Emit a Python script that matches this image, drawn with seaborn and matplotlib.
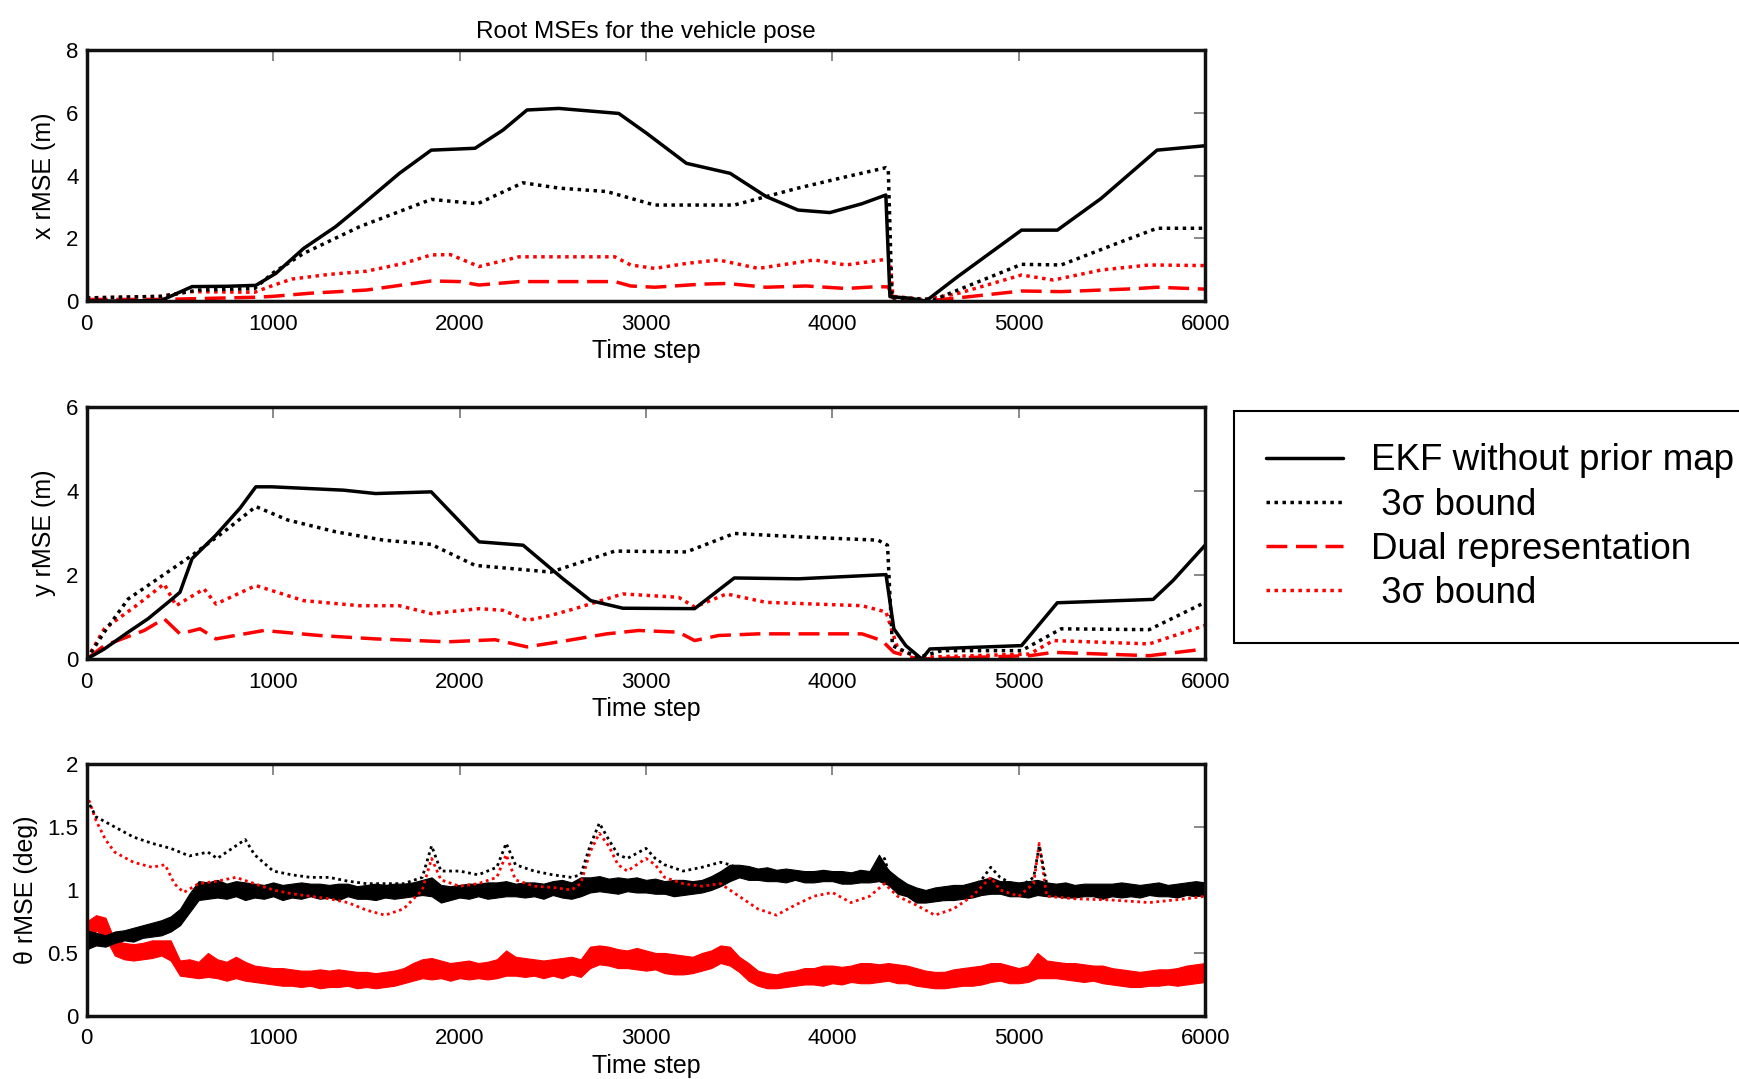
import matplotlib
matplotlib.use("Agg")
import matplotlib.pyplot as plt
import seaborn as sns
from matplotlib.lines import Line2D

# ---------------- x position error (m) ----------------
x_ekf_t = [0, 200, 400, 565, 750, 907, 1014, 1164, 1335, 1464, 1677, 1848, 2083, 2233, 2362, 2533,
           2854, 3003, 3217, 3452, 3645, 3816, 3987, 4158, 4287, 4309, 4416, 4502, 4673, 5015, 5207,
           5442, 5742, 6000]
x_ekf_v = [0.0, 0.0, 0.02, 0.46, 0.47, 0.5, 0.88, 1.68, 2.37, 3.0, 4.07, 4.81, 4.87, 5.45, 6.09, 6.14,
           5.98, 5.35, 4.39, 4.07, 3.33, 2.9, 2.82, 3.1, 3.38, 0.14, 0.09, 0.0, 0.78, 2.26, 2.26,
           3.27, 4.81, 4.95]

x_ekf_sig_t = [0, 400, 600, 900, 1000, 1164, 1464, 1848, 2096, 2340, 2533, 2790, 3046, 3474, 3816,
               4073, 4287, 4300, 4320, 4550, 4673, 5015, 5228, 5528, 5742, 6000]
x_ekf_sig_v = [0.1, 0.15, 0.35, 0.4, 0.9, 1.52, 2.37, 3.24, 3.1, 3.77, 3.6, 3.49, 3.06, 3.06, 3.6,
               3.96, 4.25, 4.2, 0.1, 0.05, 0.35, 1.17, 1.15, 1.84, 2.32, 2.32]

x_dual_sig_t = [0, 400, 550, 900, 1000, 1100, 1300, 1500, 1700, 1848, 1950, 2105, 2319, 2833, 2918,
                3047, 3218, 3389, 3603, 3902, 4074, 4288, 4310, 4325, 4500, 4673, 5015, 5186, 5443,
                5700, 6000]
x_dual_sig_v = [0.1, 0.15, 0.3, 0.28, 0.5, 0.7, 0.85, 0.95, 1.2, 1.47, 1.48, 1.1, 1.41, 1.41, 1.15,
                1.04, 1.2, 1.31, 1.04, 1.31, 1.15, 1.33, 1.3, 0.15, 0.05, 0.24, 0.83, 0.67, 0.99,
                1.15, 1.13]

x_dual_t = [0, 400, 900, 1000, 1200, 1500, 1848, 2000, 2105, 2319, 2833, 2918, 3047, 3304, 3432,
            3645, 3859, 4074, 4245, 4300, 4325, 4500, 4673, 5015, 5228, 5614, 5742, 6000]
x_dual_v = [0.05, 0.05, 0.12, 0.15, 0.25, 0.35, 0.64, 0.62, 0.51, 0.62, 0.62, 0.48, 0.44, 0.54, 0.56,
            0.44, 0.48, 0.4, 0.46, 0.45, 0.1, 0.0, 0.1, 0.32, 0.3, 0.39, 0.44, 0.38]

# ---------------- y position error (m) ----------------
y_ekf_t = [0, 94, 222, 329, 458, 500, 565, 693, 822, 907, 993, 1378, 1549, 1848, 2105, 2341, 2555,
           2704, 2876, 3261, 3474, 3817, 4288, 4330, 4394, 4480, 4523, 5015, 5207, 5721, 5828, 6000]
y_ekf_v = [0.0, 0.24, 0.64, 0.96, 1.43, 1.59, 2.39, 2.95, 3.59, 4.1, 4.1, 4.02, 3.94, 3.98, 2.79, 2.71,
           1.91, 1.39, 1.21, 1.2, 1.93, 1.91, 2.01, 0.72, 0.32, 0.0, 0.24, 0.32, 1.34, 1.42, 1.87, 2.71]

y_ekf_sig_t = [0, 94, 222, 394, 565, 736, 907, 1078, 1335, 1592, 1848, 2083, 2490, 2833, 3218, 3474,
               3817, 4245, 4296, 4322, 4459, 4587, 5015, 5228, 5700, 6000]
y_ekf_sig_v = [0.0, 0.64, 1.43, 1.95, 2.47, 3.03, 3.63, 3.31, 3.03, 2.83, 2.73, 2.23, 2.07, 2.57, 2.55,
               2.99, 2.91, 2.83, 2.71, 0.32, 0.04, 0.2, 0.2, 0.72, 0.7, 1.35]

y_dual_sig_t = [0, 94, 265, 415, 479, 629, 693, 907, 1164, 1463, 1677, 1848, 2105, 2233, 2362, 2490,
                2619, 2876, 3175, 3261, 3432, 3645, 4159, 4288, 4352, 4459, 5058, 5186, 5700, 6000]
y_dual_sig_v = [0.0, 0.72, 1.27, 1.79, 1.27, 1.67, 1.31, 1.75, 1.39, 1.27, 1.27, 1.08, 1.2, 1.16, 0.92,
                1.04, 1.2, 1.55, 1.47, 1.24, 1.55, 1.35, 1.27, 1.12, 0.24, 0.04, 0.12, 0.44, 0.36, 0.8]

y_dual_t = [0, 94, 308, 415, 500, 608, 693, 950, 1250, 1549, 1934, 2190, 2362, 2576, 2790, 2961,
            3175, 3261, 3389, 3603, 4159, 4266, 4330, 4459, 5058, 5186, 5700, 6000]
y_dual_v = [0.0, 0.32, 0.68, 0.96, 0.6, 0.72, 0.48, 0.68, 0.56, 0.48, 0.41, 0.46, 0.29, 0.44, 0.6,
            0.68, 0.64, 0.44, 0.56, 0.6, 0.6, 0.44, 0.16, 0.0, 0.08, 0.16, 0.08, 0.24]

# ---------------- heading error (deg) ----------------
# the heading estimates jitter strongly, so each one is kept as its lower/upper spread
th_t = list(range(0, 6001, 50))
th_ekf_lo = [0.53, 0.56, 0.55, 0.58, 0.60, 0.59, 0.62, 0.63, 0.64, 0.67, 0.72, 0.82, 0.92, 0.93, 0.94,
             0.93, 0.95, 0.92, 0.94, 0.93, 0.95, 0.92, 0.94, 0.93, 0.95, 0.93, 0.94, 0.92, 0.95, 0.93,
             0.93, 0.92, 0.94, 0.93, 0.94, 0.95, 0.96, 0.95, 0.90, 0.92, 0.94, 0.93, 0.95, 0.93, 0.94,
             0.95, 0.95, 0.94, 0.95, 0.93, 0.96, 0.94, 0.93, 0.95, 0.98, 0.99, 0.98, 0.97, 0.99, 0.98,
             0.98, 0.97, 0.97, 0.95, 0.96, 0.97, 0.98, 1.00, 1.03, 1.07, 1.10, 1.08, 1.08, 1.07, 1.07,
             1.06, 1.08, 1.06, 1.06, 1.07, 1.07, 1.05, 1.05, 1.06, 1.06, 1.07, 1.04, 0.97, 0.95, 0.90,
             0.90, 0.91, 0.92, 0.92, 0.93, 0.94, 0.96, 0.97, 0.97, 0.95, 0.95, 0.94, 0.96, 0.95, 0.95,
             0.94, 0.94, 0.95, 0.95, 0.93, 0.95, 0.94, 0.95, 0.94, 0.96, 0.95, 0.95, 0.94, 0.96, 0.95,
             0.96]
th_ekf_hi = [0.68, 0.66, 0.64, 0.67, 0.68, 0.70, 0.72, 0.74, 0.76, 0.79, 0.85, 0.97, 1.07, 1.06, 1.08,
             1.05, 1.07, 1.06, 1.05, 1.04, 1.06, 1.04, 1.05, 1.06, 1.05, 1.05, 1.04, 1.05, 1.05, 1.03,
             1.04, 1.05, 1.04, 1.05, 1.05, 1.06, 1.08, 1.10, 1.04, 1.03, 1.04, 1.05, 1.05, 1.06, 1.06,
             1.07, 1.05, 1.06, 1.06, 1.05, 1.07, 1.08, 1.06, 1.10, 1.10, 1.11, 1.09, 1.10, 1.09, 1.10,
             1.08, 1.09, 1.07, 1.08, 1.08, 1.07, 1.08, 1.11, 1.15, 1.20, 1.20, 1.19, 1.17, 1.18, 1.16,
             1.17, 1.16, 1.15, 1.15, 1.16, 1.15, 1.15, 1.14, 1.16, 1.15, 1.28, 1.16, 1.10, 1.05, 1.02,
             1.00, 1.02, 1.03, 1.04, 1.04, 1.06, 1.08, 1.10, 1.07, 1.07, 1.06, 1.07, 1.08, 1.06, 1.05,
             1.06, 1.04, 1.05, 1.05, 1.05, 1.05, 1.06, 1.05, 1.04, 1.05, 1.06, 1.04, 1.05, 1.06, 1.07,
             1.06]
th_dual_lo = [0.50, 0.68, 0.62, 0.48, 0.45, 0.44, 0.45, 0.46, 0.48, 0.44, 0.32, 0.31, 0.30, 0.31, 0.30,
              0.28, 0.30, 0.28, 0.27, 0.26, 0.25, 0.24, 0.24, 0.23, 0.24, 0.22, 0.23, 0.23, 0.24, 0.22,
              0.23, 0.22, 0.23, 0.24, 0.26, 0.28, 0.30, 0.29, 0.30, 0.28, 0.30, 0.29, 0.30, 0.29, 0.30,
              0.32, 0.32, 0.31, 0.32, 0.30, 0.32, 0.30, 0.33, 0.31, 0.38, 0.41, 0.40, 0.38, 0.38, 0.37,
              0.36, 0.37, 0.34, 0.33, 0.33, 0.34, 0.36, 0.38, 0.42, 0.40, 0.35, 0.28, 0.24, 0.22, 0.22,
              0.23, 0.24, 0.25, 0.25, 0.24, 0.26, 0.25, 0.27, 0.26, 0.26, 0.27, 0.28, 0.26, 0.26, 0.24,
              0.23, 0.22, 0.22, 0.23, 0.24, 0.24, 0.25, 0.27, 0.28, 0.26, 0.26, 0.27, 0.30, 0.30, 0.30,
              0.29, 0.28, 0.27, 0.28, 0.26, 0.25, 0.24, 0.23, 0.23, 0.24, 0.24, 0.25, 0.24, 0.25, 0.26,
              0.27]
th_dual_hi = [0.75, 0.80, 0.78, 0.60, 0.58, 0.57, 0.58, 0.60, 0.60, 0.60, 0.44, 0.45, 0.43, 0.50, 0.45,
              0.43, 0.47, 0.43, 0.40, 0.39, 0.38, 0.38, 0.37, 0.36, 0.36, 0.37, 0.36, 0.37, 0.36, 0.35,
              0.35, 0.34, 0.35, 0.36, 0.38, 0.42, 0.45, 0.46, 0.44, 0.42, 0.43, 0.44, 0.42, 0.43, 0.45,
              0.52, 0.47, 0.46, 0.45, 0.44, 0.45, 0.46, 0.47, 0.45, 0.55, 0.56, 0.55, 0.53, 0.52, 0.54,
              0.52, 0.50, 0.50, 0.49, 0.48, 0.47, 0.50, 0.52, 0.56, 0.55, 0.47, 0.42, 0.36, 0.34, 0.33,
              0.35, 0.36, 0.38, 0.38, 0.40, 0.40, 0.39, 0.40, 0.42, 0.42, 0.41, 0.42, 0.41, 0.40, 0.38,
              0.36, 0.35, 0.35, 0.37, 0.38, 0.39, 0.40, 0.42, 0.42, 0.40, 0.38, 0.40, 0.50, 0.44, 0.43,
              0.42, 0.42, 0.41, 0.40, 0.40, 0.38, 0.37, 0.36, 0.35, 0.36, 0.37, 0.37, 0.38, 0.40, 0.41,
              0.42]

th_ekf_sig_t = [0, 50, 150, 250, 350, 450, 550, 650, 700, 800, 850, 900, 1000, 1100, 1200, 1300, 1400,
                1500, 1600, 1700, 1800, 1850, 1900, 2000, 2100, 2200, 2250, 2300, 2400, 2500, 2600,
                2650, 2700, 2750, 2800, 2850, 2900, 3000, 3050, 3100, 3200, 3300, 3400, 3450, 3500,
                3600, 3800, 4000, 4200, 4280, 4320, 4400, 4500, 4600, 4700, 4800, 4850, 4900, 5000,
                5080, 5110, 5150, 5300, 5500, 5700, 5900, 6000]
th_ekf_sig_v = [1.72, 1.58, 1.5, 1.42, 1.37, 1.33, 1.27, 1.3, 1.25, 1.35, 1.4, 1.28, 1.15, 1.12, 1.1,
                1.1, 1.07, 1.05, 1.05, 1.05, 1.1, 1.35, 1.15, 1.15, 1.12, 1.18, 1.37, 1.2, 1.15, 1.12,
                1.1, 1.12, 1.35, 1.53, 1.4, 1.28, 1.25, 1.33, 1.25, 1.2, 1.15, 1.18, 1.22, 1.2, 1.17,
                1.15, 1.13, 1.12, 1.12, 1.25, 1.05, 1.03, 0.95, 0.92, 0.95, 1.08, 1.18, 1.1, 1.02,
                1.1, 1.35, 1.05, 1.0, 0.98, 0.97, 0.98, 1.0]

th_dual_sig_t = [0, 50, 100, 150, 250, 350, 420, 470, 520, 600, 700, 800, 900, 1000, 1100, 1200, 1300,
                 1400, 1500, 1600, 1700, 1800, 1850, 1900, 2000, 2100, 2200, 2250, 2300, 2400, 2500,
                 2600, 2650, 2700, 2750, 2800, 2850, 2900, 3000, 3050, 3100, 3200, 3300, 3400, 3500,
                 3600, 3700, 3800, 3900, 4000, 4100, 4200, 4280, 4350, 4450, 4550, 4650, 4750, 4850,
                 4900, 5000, 5080, 5110, 5150, 5300, 5500, 5700, 5900, 6000]
th_dual_sig_v = [1.76, 1.55, 1.4, 1.3, 1.22, 1.18, 1.2, 1.05, 0.98, 1.05, 1.07, 1.1, 1.05, 1.0, 0.97,
                 0.95, 0.93, 0.9, 0.84, 0.8, 0.85, 1.0, 1.25, 1.08, 1.03, 1.05, 1.1, 1.28, 1.08, 1.03,
                 1.02, 1.0, 1.05, 1.3, 1.45, 1.35, 1.2, 1.15, 1.25, 1.2, 1.1, 1.05, 1.03, 1.05, 0.95,
                 0.85, 0.8, 0.88, 0.95, 0.98, 0.9, 0.95, 1.05, 0.95, 0.88, 0.8, 0.85, 0.95, 1.1, 1.0,
                 0.95, 1.05, 1.37, 0.95, 0.93, 0.92, 0.9, 0.93, 0.95]

legend_labels = ["EKF without prior map", " 3\u03c3 bound", "Dual representation", " 3\u03c3 bound"]

# ---------------- styling ----------------
sns.set_theme(style="white")
plt.rcParams["font.family"] = ["Liberation Sans", "DejaVu Sans"]
plt.rcParams["text.color"] = "black"
plt.rcParams["axes.labelcolor"] = "black"
plt.rcParams["xtick.color"] = "black"
plt.rcParams["ytick.color"] = "black"

RED = "#ff0000"
DOT = (0, (1.0, 1.3))
DASH = (0, (6, 2.5))

fig = plt.figure(figsize=(17.39, 10.79), dpi=100)
fig.patch.set_facecolor("white")

left, width = 0.0499, 0.6431
ax_x = fig.add_axes([left, 0.7210, width, 0.2326])
ax_y = fig.add_axes([left, 0.3892, width, 0.2336])
ax_th = fig.add_axes([left, 0.0584, width, 0.2336])


def draw(ax, t, v, color, ls, lw):
    sns.lineplot(x=t, y=v, ax=ax, color=color, linestyle=ls, linewidth=lw,
                 sort=False, estimator=None, legend=False)


# x panel
draw(ax_x, x_dual_t, x_dual_v, RED, DASH, 2.5)
draw(ax_x, x_dual_sig_t, x_dual_sig_v, RED, DOT, 2.5)
draw(ax_x, x_ekf_sig_t, x_ekf_sig_v, "black", DOT, 2.5)
draw(ax_x, x_ekf_t, x_ekf_v, "black", "-", 2.5)

# y panel
draw(ax_y, y_dual_t, y_dual_v, RED, DASH, 2.5)
draw(ax_y, y_dual_sig_t, y_dual_sig_v, RED, DOT, 2.5)
draw(ax_y, y_ekf_sig_t, y_ekf_sig_v, "black", DOT, 2.5)
draw(ax_y, y_ekf_t, y_ekf_v, "black", "-", 2.5)

# heading panel
ax_th.fill_between(th_t, th_dual_lo, th_dual_hi, color=RED, linewidth=0.8, edgecolor=RED)
draw(ax_th, th_dual_sig_t, th_dual_sig_v, RED, DOT, 2.0)
draw(ax_th, th_ekf_sig_t, th_ekf_sig_v, "black", DOT, 2.0)
ax_th.fill_between(th_t, th_ekf_lo, th_ekf_hi, color="black", linewidth=0.8, edgecolor="black")

limits = [(ax_x, 8, [0, 2, 4, 6, 8], ["0", "2", "4", "6", "8"], "x rMSE (m)"),
          (ax_y, 6, [0, 2, 4, 6], ["0", "2", "4", "6"], "y rMSE (m)"),
          (ax_th, 2, [0, 0.5, 1, 1.5, 2], ["0", "0.5", "1", "1.5", "2"], "\u03b8 rMSE (deg)")]

for ax, ymax, yt, ytl, ylab in limits:
    ax.set_xlim(0, 6000)
    ax.set_ylim(0, ymax)
    ax.set_xticks(range(0, 6001, 1000))
    ax.set_xticklabels([str(v) for v in range(0, 6001, 1000)])
    ax.set_yticks(yt)
    ax.set_yticklabels(ytl)
    ax.set_facecolor("white")
    for sp in ax.spines.values():
        sp.set_visible(True)
        sp.set_linewidth(2.5)
        sp.set_color("#111111")
    ax.tick_params(axis="both", direction="in", length=8, width=1.3, color="#808080",
                   top=True, right=True, labelsize=16, labelcolor="black")
    ax.tick_params(axis="x", pad=9)
    ax.tick_params(axis="y", pad=6)
    ax.set_xlabel("Time step", fontsize=18, labelpad=3, color="black")
    ax.set_ylabel(ylab, fontsize=18, labelpad=7, color="black")
    ax.grid(False)

ax_x.set_title("Root MSEs for the vehicle pose", fontsize=17.5, pad=9, color="black")

handles = [Line2D([], [], color="black", lw=2.5, linestyle="-"),
           Line2D([], [], color="black", lw=2.5, linestyle=DOT),
           Line2D([], [], color=RED, lw=2.5, linestyle=DASH),
           Line2D([], [], color=RED, lw=2.5, linestyle=DOT)]
leg = fig.legend(handles, legend_labels, loc="upper left",
                 bbox_to_anchor=(1234 / 1739, 1 - 411 / 1079), fontsize=26.5,
                 frameon=True, fancybox=False, shadow=False, borderpad=0.88,
                 handlelength=2.09, handletextpad=0.76, labelspacing=0.25,
                 borderaxespad=0, labelcolor="black")
leg.get_frame().set_edgecolor("black")
leg.get_frame().set_linewidth(1.5)
leg.get_frame().set_facecolor("white")
leg.get_frame().set_alpha(1)

fig.savefig("out.png", dpi=100, facecolor="white")
